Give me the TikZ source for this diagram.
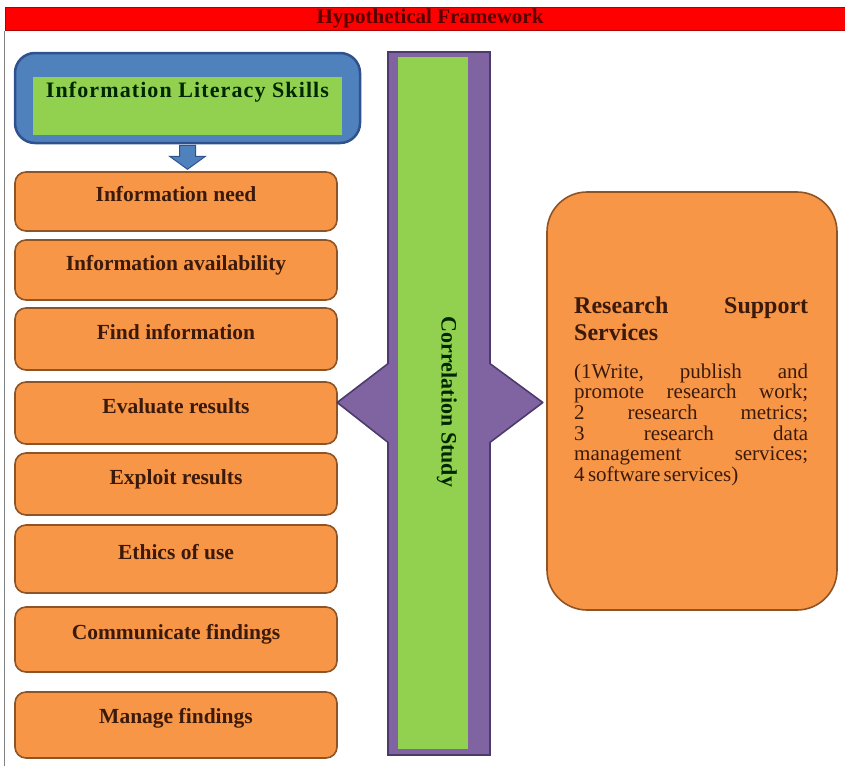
\documentclass[tikz,border=0pt]{standalone}
\usepackage{fontspec}
\setmainfont{Liberation Serif}
\usetikzlibrary{calc}

\definecolor{bandred}{HTML}{FF0000}
\definecolor{bandedge}{HTML}{B00000}
\definecolor{bandtext}{HTML}{5A0000}
\definecolor{skillblue}{HTML}{4F81BD}
\definecolor{skilledge}{HTML}{2F528F}
\definecolor{leafgreen}{HTML}{92D050}
\definecolor{boxorange}{HTML}{F79646}
\definecolor{boxedge}{HTML}{8E5426}
\definecolor{boxtext}{HTML}{3B1A0C}
\definecolor{studypurple}{HTML}{8064A2}
\definecolor{studyedge}{HTML}{4B3A6B}

\begin{document}
\begin{tikzpicture}[x=1pt, y=-1pt]

\useasboundingbox (0,0) rectangle (845,766);

% Styles
\tikzstyle{skill}=[draw, line width=1.6pt, rounded corners=11pt, fill=boxorange, draw=boxedge,
  minimum width=322pt, text=boxtext, font=\fontsize{21.5}{24}\selectfont\bfseries,
  text height=15pt, text depth=15pt]
\tikzstyle{bar}=[draw=studyedge, line width=1.6pt, fill=studypurple]

%%%%%%%%%%%%%%%%%%%%%%%%%%%%%%%%%%%%%%%%%%%%%%%%%%%%%%%%%%%%%%%%
%
%       Title band and frame
%
\node (band) [draw=bandedge, fill=bandred, line width=1pt, minimum width=840pt, minimum height=23pt] at (425,18.5) {};
\node (title) [text=bandtext, font=\fontsize{21}{22}\selectfont\bfseries] at (430,18.5) {Hypothetical Framework};
\draw[gray, line width=1.5pt] (band.south west) -- (band.south west |- 0,766);

%%%%%%%%%%%%%%%%%%%%%%%%%%%%%%%%%%%%%%%%%%%%%%%%%%%%%%%%%%%%%%%%
%
%       Information literacy skills
%
\node (skills) [draw=skilledge, fill=skillblue, line width=2.5pt, rounded corners=20pt,
  minimum width=345pt, minimum height=90pt] at (187.5,98) {};
\node (skillsin) [fill=leafgreen, minimum width=309pt, minimum height=58pt, inner sep=0pt,
  font=\fontsize{22}{24}\selectfont\bfseries\addfontfeature{LetterSpace=5}, text=black!85!green,
  text height=14pt, text depth=32pt] at (187.5,106) {Information Literacy Skills};

% block arrow down
\filldraw[fill=skillblue, draw=skilledge, line width=1pt]
  ($(skills.south)+(-8,1)$) -- ($(skills.south)+(8,1)$) -- ($(skills.south)+(8,12)$)
  -- ($(skills.south)+(18,12)$) -- ($(skills.south)+(0,25)$) -- ($(skills.south)+(-18,12)$)
  -- ($(skills.south)+(-8,12)$) -- cycle;

\node (need)    [skill, minimum height=59pt] at (176,201.5) {Information need};
\node (avail)   [skill, minimum height=60pt] at (176,270)   {Information availability};
\node (find)    [skill, minimum height=62pt] at (176,339)   {Find information};
\node (eval)    [skill, minimum height=62pt] at (176,413)   {Evaluate results};
\node (exploit) [skill, minimum height=62pt] at (176,484)   {Exploit results};
\node (ethics)  [skill, minimum height=68pt] at (176,559)   {Ethics of use};
\node (comm)    [skill, minimum height=65pt] at (176,639.5) {Communicate findings};
\node (manage)  [skill, minimum height=66pt, text depth=19pt] at (176,725) {Manage findings};

%%%%%%%%%%%%%%%%%%%%%%%%%%%%%%%%%%%%%%%%%%%%%%%%%%%%%%%%%%%%%%%%
%
%       Correlation study bar
%
\node (study) [bar, minimum width=102pt, minimum height=703pt] at (439,403.5) {};

% arrow heads left and right
\fill[studypurple] ($(study.west)+(2,-40)$) -- ($(study.west)+(-50,-1)$) -- ($(study.west)+(2,39)$) -- cycle;
\draw[studyedge, line width=1.6pt, line join=round] ($(study.west)+(1,-40)$) -- ($(study.west)+(-50,-1)$) -- ($(study.west)+(1,39)$);
\fill[studypurple] ($(study.east)+(-2,-40)$) -- ($(study.east)+(52,-1)$) -- ($(study.east)+(-2,39)$) -- cycle;
\draw[studyedge, line width=1.6pt, line join=round] ($(study.east)+(-1,-40)$) -- ($(study.east)+(52,-1)$) -- ($(study.east)+(-1,39)$);
\fill[studypurple] ($(study.west)+(-1.5,-20)$) rectangle ($(study.west)+(3,20)$);
\fill[studypurple] ($(study.east)+(-3,-20)$) rectangle ($(study.east)+(1.5,20)$);

\node (studyin) [fill=leafgreen, minimum width=70pt, minimum height=692pt, inner sep=0pt] at (433,403) {};
\node (studytxt) [rotate=-90, font=\fontsize{22}{24}\selectfont\bfseries, text=black!85!green] at (447,402) {Correlation Study};

%%%%%%%%%%%%%%%%%%%%%%%%%%%%%%%%%%%%%%%%%%%%%%%%%%%%%%%%%%%%%%%%
%
%       Research support services
%
\node (rss) [draw=boxedge, fill=boxorange, line width=1.6pt, rounded corners=40pt,
  minimum width=290pt, minimum height=418pt] at (692,401) {};
\node (rsstxt) [anchor=north west, text width=234pt, align=left, inner sep=0pt, text=boxtext] at (574,296.5)
  {\fontsize{24}{27}\selectfont\bfseries Research\hfill Support\\ Services\par
   \vspace{17pt}
   \fontsize{21}{20.7}\selectfont\mdseries
   (1Write,\hfill publish\hfill and\\
   promote\hfill research\hfill work;\\
   2\hfill research\hfill metrics;\\
   3\hfill research\hfill data\\
   management\hfill services;\\
   4 software services)\par};

\end{tikzpicture}
\end{document}
